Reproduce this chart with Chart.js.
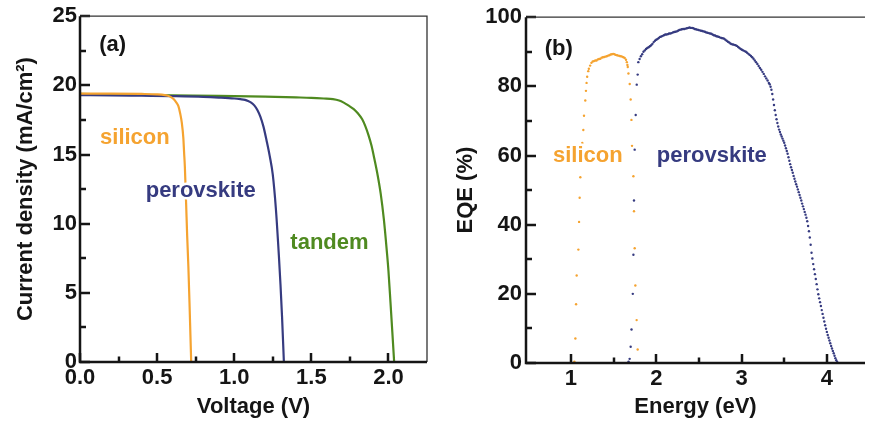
<!DOCTYPE html>
<html>
<head>
<meta charset="utf-8">
<script src="https://cdn.jsdelivr.net/npm/chart.js@4"></script>
<style>
  body { margin: 0; background: #fff; }
  #wrap { position: relative; width: 869px; height: 423px; overflow: hidden; background: #fff; }
  canvas { position: absolute; top: 0; }
  #chart-jv { left: 0; }
  #chart-eqe { left: 440px; }
</style>
</head>
<body>
<div id="wrap">
  <canvas id="chart-jv" width="440" height="423"></canvas>
  <canvas id="chart-eqe" width="429" height="423"></canvas>
</div>
<script>
// (a) curvas J-V
const voltajeSi = [0, 0.2, 0.4, 0.5, 0.55, 0.57, 0.59, 0.61, 0.625, 0.638, 0.65, 0.66, 0.67, 0.675, 0.68, 0.688, 0.695, 0.703, 0.71, 0.716, 0.721];
const corrienteSi = [19.4, 19.4, 19.38, 19.35, 19.3, 19.25, 19.15, 18.97, 18.75, 18.5, 17.95, 17.3, 16.2, 15.15, 14.1, 11.5, 9.1, 6.8, 4.3, 1.95, 0];

const voltajePv = [0, 0.2, 0.4, 0.6, 0.8, 0.9, 1.0, 1.04, 1.07, 1.09, 1.11, 1.13, 1.15, 1.17, 1.19, 1.21, 1.23, 1.25, 1.27, 1.29, 1.30, 1.31, 1.322];
const corrientePv = [19.3, 19.28, 19.25, 19.22, 19.17, 19.12, 19.05, 19.0, 18.95, 18.87, 18.75, 18.55, 18.22, 17.72, 17.0, 16.0, 14.9, 13.55, 11.1, 7.6, 5.6, 3.3, 0];

const voltajeTd = [0, 0.3, 0.6, 0.9, 1.2, 1.4, 1.5, 1.58, 1.64, 1.68, 1.71, 1.74, 1.775, 1.80, 1.83, 1.85, 1.87, 1.89, 1.91, 1.93, 1.95, 1.97, 1.99, 2.00, 2.013, 2.025, 2.037];
const corrienteTd = [19.38, 19.33, 19.28, 19.24, 19.18, 19.13, 19.1, 19.05, 19.0, 18.9, 18.75, 18.55, 18.28, 18.0, 17.55, 17.05, 16.42, 15.65, 14.62, 13.5, 12.15, 10.35, 7.95, 6.6, 4.35, 2.2, 0];

const ticksVoltaje = [0, 0.5, 1.0, 1.5, 2.0];
const menoresVoltaje = [0.25, 0.75, 1.25, 1.75];
const ticksCorriente = [0, 5, 10, 15, 20, 25];
const menoresCorriente = [2.5, 7.5, 12.5, 17.5, 22.5];

// (b) EQE
const energiaSi = [1.04, 1.052, 1.06, 1.067, 1.087, 1.095, 1.102, 1.11, 1.133, 1.145, 1.153, 1.168, 1.176, 1.183, 1.19, 1.203,
  1.21, 1.225, 1.24, 1.255, 1.27, 1.285, 1.30, 1.315, 1.33, 1.345, 1.36, 1.375, 1.39, 1.405, 1.42, 1.435, 1.45, 1.465, 1.48,
  1.495, 1.51, 1.525, 1.54, 1.555, 1.57, 1.585, 1.60, 1.615, 1.63, 1.645, 1.655, 1.662,
  1.666, 1.674, 1.689, 1.70, 1.709, 1.716, 1.732, 1.739, 1.747, 1.755, 1.77, 1.782];
const eqeSi = [0.4, 7.1, 17.0, 25.3, 32.8, 40.8, 47.8, 53.7, 63.6, 67.4, 71.5, 75.9, 78.7, 81.0, 82.8, 84.4,
  85.1, 86.0, 86.8, 87.2, 87.3, 87.5, 87.5, 87.8, 87.9, 88.0, 88.3, 88.4, 88.5, 88.6, 88.7, 88.9, 89.0, 89.2, 89.3,
  89.4, 89.3, 89.1, 89.0, 88.9, 88.8, 88.7, 88.6, 88.4, 88.2, 87.7, 87.0, 86.2,
  85.6, 83.7, 80.7, 76.2, 70.3, 62.8, 54.0, 43.9, 33.2, 22.4, 12.4, 3.9];

const energiaPv = [1.675, 1.688, 1.70, 1.71, 1.725, 1.732, 1.739, 1.747, 1.759, 1.771, 1.782,
  1.790, 1.805, 1.820, 1.835, 1.850, 1.865, 1.880, 1.895, 1.910, 1.925, 1.940, 1.955, 1.970, 1.985, 2.000,
  2.015, 2.030, 2.045, 2.060, 2.075, 2.090, 2.105, 2.120, 2.135, 2.150, 2.165, 2.180, 2.195, 2.210, 2.225,
  2.240, 2.255, 2.270, 2.285, 2.300, 2.315, 2.330, 2.345, 2.360, 2.375, 2.390, 2.405, 2.420, 2.435, 2.450,
  2.465, 2.480, 2.495, 2.510, 2.525, 2.540, 2.555, 2.570, 2.585, 2.600, 2.615, 2.630, 2.645, 2.660, 2.675,
  2.690, 2.705, 2.720, 2.735, 2.750, 2.765, 2.780, 2.795, 2.810, 2.825, 2.840, 2.855, 2.870, 2.885, 2.900,
  2.915, 2.930, 2.945, 2.960, 2.975, 2.990, 3.005, 3.020, 3.035, 3.050, 3.065, 3.080, 3.095, 3.110, 3.125,
  3.140, 3.155, 3.170, 3.185, 3.200, 3.215, 3.230, 3.245, 3.260, 3.275, 3.290, 3.305, 3.320,
  3.33, 3.34, 3.35, 3.36, 3.37, 3.38, 3.39, 3.40, 3.41, 3.42, 3.43, 3.44, 3.45, 3.46, 3.47, 3.48, 3.49, 3.50,
  3.51, 3.52, 3.53, 3.54, 3.55, 3.56, 3.57, 3.58, 3.59, 3.60, 3.61, 3.62, 3.63, 3.64, 3.65, 3.66, 3.67, 3.68,
  3.69, 3.70, 3.71, 3.72, 3.73, 3.74, 3.75, 3.76, 3.77, 3.78, 3.79, 3.80, 3.81, 3.82, 3.83, 3.84, 3.85, 3.86,
  3.87, 3.88, 3.89, 3.90, 3.91, 3.92, 3.93, 3.94, 3.95, 3.96, 3.97, 3.98, 3.99, 4.00, 4.01, 4.02, 4.03, 4.04,
  4.05, 4.06, 4.07, 4.08, 4.09, 4.10, 4.11, 4.12, 4.13];
const eqePv = [0.4, 1.2, 4.7, 9.7, 20.0, 31.3, 47.0, 61.7, 71.7, 80.5, 83.4,
  87.0, 87.9, 88.7, 89.3, 90.0, 90.4, 90.8, 91.1, 91.3, 91.6, 91.9, 92.3, 92.8, 93.2, 93.5,
  93.7, 94.0, 94.3, 94.4, 94.6, 94.8, 95.0, 95.0, 95.1, 95.3, 95.3, 95.4, 95.6, 95.7, 95.8,
  95.9, 96.1, 96.3, 96.4, 96.5, 96.6, 96.6, 96.7, 96.8, 96.9, 97.0, 96.9, 96.9, 96.8, 96.6,
  96.5, 96.4, 96.3, 96.2, 96.1, 96.0, 95.9, 95.8, 95.6, 95.5, 95.4, 95.3, 95.2, 95.0, 94.8,
  94.7, 94.5, 94.4, 94.3, 94.1, 94.0, 93.9, 93.8, 93.5, 93.2, 92.9, 92.7, 92.4, 92.2, 92.1,
  92.0, 91.9, 91.7, 91.4, 91.1, 90.8, 90.6, 90.4, 90.2, 90.0, 89.7, 89.4, 89.1, 88.8, 88.4,
  88.0, 87.5, 87.0, 86.5, 85.9, 85.3, 84.8, 84.2, 83.6, 82.9, 82.3, 81.7, 81.0,
  80.6, 79.9, 79.0, 77.8, 76.2, 74.6, 73.1, 71.7, 70.5, 69.4, 68.4, 67.5, 66.8, 66.1, 65.5, 64.9, 64.3, 63.7,
  62.9, 62.1, 61.3, 60.5, 59.5, 58.5, 57.5, 56.6, 55.8, 55.0, 54.1, 53.3, 52.5, 51.7, 51.0, 50.2, 49.4, 48.6,
  47.8, 47.0, 46.1, 45.3, 44.5, 43.7, 42.9, 42.0, 41.0, 39.6, 38.1, 36.3, 34.2, 31.9, 30.2, 28.6, 27.1, 25.7,
  24.3, 22.8, 21.3, 19.9, 18.7, 17.6, 16.5, 15.3, 14.2, 13.1, 12.0, 10.9, 9.9, 9.0, 8.1, 7.3, 6.5, 5.7,
  4.9, 4.2, 3.5, 2.8, 2.1, 1.4, 0.8, 0.3, 0];

const ticksEnergia = [1, 2, 3, 4];
const menoresEnergia = [1.5, 2.5, 3.5];
const ticksEqe = [0, 20, 40, 60, 80, 100];
const menoresEqe = [10, 30, 50, 70, 90];

const naranja = '#f5a330';
const azul = '#363b80';
const verde = '#4f8a20';
const negro = '#151515';
const fuente = { family: '"Liberation Sans", Arial, Helvetica, sans-serif', size: 22, weight: 'bold' };

function pares(xs, ys) {
  return xs.map((v, i) => ({ x: v, y: ys[i] }));
}

// marcas hacia dentro, marco y textos dentro de la grafica
const ejes = {
  id: 'ejes',
  afterDraw(chart, args, opts) {
    const { ctx, chartArea: a, scales: { x, y } } = chart;
    ctx.save();
    ctx.strokeStyle = negro;
    ctx.lineWidth = 2.5;
    ctx.beginPath();
    const marcasX = (vals, largo) => vals.forEach(v => {
      const px = Math.round(x.getPixelForValue(v));
      ctx.moveTo(px, a.bottom); ctx.lineTo(px, a.bottom - largo);
    });
    const marcasY = (vals, largo) => vals.forEach(v => {
      const py = Math.round(y.getPixelForValue(v));
      ctx.moveTo(a.left, py); ctx.lineTo(a.left + largo, py);
    });
    marcasX(opts.xMayores, 9);
    marcasX(opts.xMenores, 5.5);
    marcasY(opts.yMayores, 10);
    marcasY(opts.yMenores, 6);
    ctx.stroke();

    // lados finos
    ctx.lineWidth = 1.3;
    ctx.strokeStyle = '#333';
    ctx.beginPath();
    ctx.moveTo(a.left, a.top);
    ctx.lineTo(a.right, a.top);
    if (opts.derecha) ctx.lineTo(a.right, a.bottom);
    ctx.stroke();

    // lados gruesos
    ctx.lineWidth = 2.5;
    ctx.strokeStyle = negro;
    ctx.beginPath();
    ctx.moveTo(a.left, a.top);
    ctx.lineTo(a.left, a.bottom);
    ctx.lineTo(a.right, a.bottom);
    ctx.stroke();

    ctx.font = 'bold 22px "Liberation Sans", Arial, Helvetica, sans-serif';
    ctx.textBaseline = 'alphabetic';
    ctx.textAlign = 'left';
    opts.textos.forEach(t => {
      const px = x.getPixelForValue(t.x);
      const py = y.getPixelForValue(t.y);
      ctx.lineWidth = 5;
      ctx.strokeStyle = '#fff';
      ctx.lineJoin = 'round';
      ctx.strokeText(t.texto, px, py);
      ctx.fillStyle = t.color;
      ctx.fillText(t.texto, px, py);
    });
    ctx.restore();
  }
};

function escala(min, max, ticks, decimales, ancho, alto, titulo, pad) {
  return {
    type: 'linear',
    min: min,
    max: max,
    grid: { display: false, drawTicks: false },
    border: { display: false },
    afterBuildTicks: s => { s.ticks = ticks.map(v => ({ value: v })); },
    afterFit: s => {
      if (ancho) s.width = ancho;
      if (alto) s.height = alto;
    },
    ticks: {
      autoSkip: false,
      maxRotation: 0,
      padding: pad,
      color: negro,
      font: fuente,
      callback: v => v.toFixed(decimales)
    },
    title: {
      display: true,
      text: titulo,
      color: negro,
      font: fuente,
      padding: ancho ? { top: 13, bottom: 0 } : { top: 0, bottom: 3 }
    }
  };
}

const ctx = document.getElementById('chart-jv');

new Chart(ctx, {
  type: 'scatter',
  data: {
    datasets: [
      { label: 'silicon', data: pares(voltajeSi, corrienteSi), borderColor: naranja },
      { label: 'perovskite', data: pares(voltajePv, corrientePv), borderColor: azul },
      { label: 'tandem', data: pares(voltajeTd, corrienteTd), borderColor: verde }
    ].map(d => Object.assign(d, {
      showLine: true,
      borderWidth: 2.2,
      pointRadius: 0,
      cubicInterpolationMode: 'monotone'
    }))
  },
  options: {
    responsive: false,
    animation: false,
    layout: { padding: { top: 15, right: 13, left: 0, bottom: 0 } },
    plugins: {
      legend: { display: false },
      tooltip: { enabled: false },
      ejes: {
        xMayores: ticksVoltaje, xMenores: menoresVoltaje,
        yMayores: ticksCorriente, yMenores: menoresCorriente,
        derecha: true,
        textos: [
          { texto: '(a)', x: 0.125, y: 22.48, color: negro },
          { texto: 'silicon', x: 0.13, y: 15.76, color: naranja },
          { texto: 'perovskite', x: 0.426, y: 11.91, color: azul },
          { texto: 'tandem', x: 1.364, y: 8.19, color: verde }
        ]
      }
    },
    scales: {
      x: escala(0, 2.25, ticksVoltaje, 1, 0, 61, 'Voltage (V)', 3),
      y: escala(0, 25, ticksCorriente, 0, 80, 0, 'Current density (mA/cm²)', 3)
    }
  },
  plugins: [ejes]
});

const ctx2 = document.getElementById('chart-eqe');

new Chart(ctx2, {
  type: 'scatter',
  data: {
    datasets: [
      { label: 'silicon', data: pares(energiaSi, eqeSi), backgroundColor: naranja },
      { label: 'perovskite', data: pares(energiaPv, eqePv), backgroundColor: azul }
    ].map(d => Object.assign(d, {
      showLine: false,
      pointRadius: 1.2,
      pointBorderWidth: 0,
      borderWidth: 0
    }))
  },
  options: {
    responsive: false,
    animation: false,
    layout: { padding: { top: 15, right: 0, left: 0, bottom: 0 } },
    plugins: {
      legend: { display: false },
      tooltip: { enabled: false },
      ejes: {
        xMayores: ticksEnergia, xMenores: menoresEnergia,
        yMayores: ticksEqe, yMenores: menoresEqe,
        derecha: false,
        textos: [
          { texto: '(b)', x: 0.693, y: 89.0, color: negro },
          { texto: 'silicon', x: 0.789, y: 58.1, color: naranja },
          { texto: 'perovskite', x: 2.006, y: 58.1, color: azul }
        ]
      }
    },
    scales: {
      x: escala(0.473, 4.447, ticksEnergia, 0, 0, 60, 'Energy (eV)', 3),
      y: escala(0, 100, ticksEqe, 0, 86, 0, 'EQE (%)', 4)
    }
  },
  plugins: [ejes]
});
</script>
</body>
</html>
